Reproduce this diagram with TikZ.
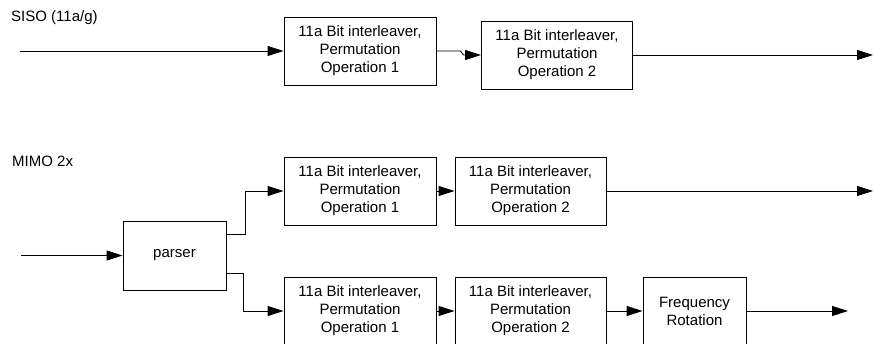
\documentclass[tikz,border=0pt]{standalone}
\usepackage{fontspec}
\setmainfont{Liberation Sans}
\usetikzlibrary{arrows.meta}
\begin{document}
\begin{tikzpicture}[x=1pt,y=1pt,
  blk/.style={draw=black,line width=0.9pt,minimum width=152pt,minimum height=68pt,
    align=center,inner sep=0pt,font=\fontsize{15}{18}\selectfont},
  smallblk/.style={blk,minimum width=103pt},
  lbl/.style={anchor=west,inner sep=0pt,font=\fontsize{15}{18}\selectfont},
  arr/.style={line width=0.9pt,-{Triangle[length=16pt,width=10pt]}}]
\useasboundingbox (0,0) rectangle (874,343);

% SISO path
\node[lbl] (siso) at (11,325) {SISO (11a/g)};
\coordinate (sin) at (20,292);
\node[blk] (s1) at (360,292) {11a Bit interleaver,\\Permutation\\Operation 1};
\node[blk,minimum width=151pt] (s2) at (557,288) {11a Bit interleaver,\\Permutation\\Operation 2};
\coordinate (sout) at (873,288);
\draw[arr] (sin) -- (s1.west);
\draw[arr] (s1.east) -- ++(24pt,0) -- ++(3pt,-4pt) -- (s2.west);
\draw[arr] (s2.east) -- (sout);

% MIMO 2x path
\node[lbl] (mimo) at (12,182) {MIMO 2x};
\coordinate (min) at (21,87.5);
\node[smallblk,minimum height=69pt] (p) at (174.5,87.5) {parser};
\node[blk] (a1) at (360,152) {11a Bit interleaver,\\Permutation\\Operation 1};
\node[blk,minimum width=151pt] (a2) at (530.5,152) {11a Bit interleaver,\\Permutation\\Operation 2};
\coordinate (aout) at (873,152);
\node[blk] (b1) at (360,32) {11a Bit interleaver,\\Permutation\\Operation 1};
\node[blk,minimum width=151pt] (b2) at (530.5,32) {11a Bit interleaver,\\Permutation\\Operation 2};
\node[smallblk] (fr) at (694.5,32) {Frequency\\Rotation};
\coordinate (bout) at (848,32);

\draw[arr] (min) -- (p.west);
\draw[arr] ([yshift=21.5pt]p.east) -- ++(19pt,0) |- (a1.west);
\draw[arr] ([yshift=-17.5pt]p.east) -- ++(17pt,0) |- (b1.west);
\draw[arr] (a1.east) -- (a2.west);
\draw[arr] (a2.east) -- (aout);
\draw[arr] (b1.east) -- (b2.west);
\draw[arr] (b2.east) -- (fr.west);
\draw[arr] (fr.east) -- (bout);
\end{tikzpicture}
\end{document}
